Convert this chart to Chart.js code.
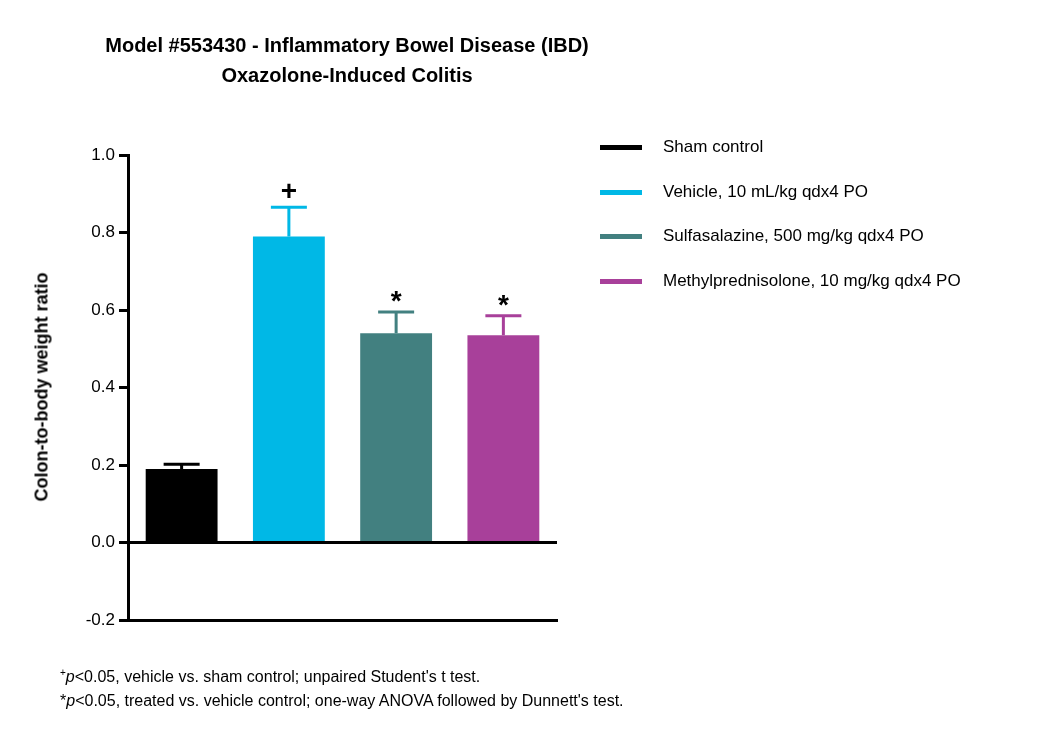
<!DOCTYPE html>
<html><head><meta charset="utf-8">
<script src="https://cdn.jsdelivr.net/npm/chart.js@4"></script>
<style>
body{margin:0;width:1050px;height:742px;background:#fff;font-family:"Liberation Sans",Arial,sans-serif;position:relative;overflow:hidden}
#c{position:absolute;left:0;top:0}
.t{position:absolute;left:0;width:694px;text-align:center;font-weight:bold;font-size:20px;color:#000}
.yt{position:absolute;left:42px;top:387px;transform:translate(-50%,-50%) rotate(-90deg);font-weight:bold;font-size:18px;white-space:nowrap}
.lg{position:absolute;left:600px;font-size:17px;color:#000}
.lg span{position:absolute;left:0;top:8px;width:42px;height:5px}
.lg div{position:absolute;left:63px;top:0;white-space:nowrap}
.fn{position:absolute;left:60px;font-size:16px;white-space:nowrap}
</style></head><body>
<canvas id="c" width="1050" height="742"></canvas>
<div class="t" style="top:34px">Model #553430 - Inflammatory Bowel Disease (IBD)</div>
<div class="t" style="top:64px">Oxazolone-Induced Colitis</div>
<div class="yt">Colon-to-body weight ratio</div>
<div id="legend"></div>
<div class="fn" style="top:667px"><sup style="font-size:10px">+</sup><i>p</i>&lt;0.05, vehicle vs. sham control; unpaired Student's t test.</div>
<div class="fn" style="top:692px">*<i>p</i>&lt;0.05, treated vs. vehicle control; one-way ANOVA followed by Dunnett's test.</div>
<script>
const groups=["Sham control","Vehicle, 10 mL/kg qdx4 PO","Sulfasalazine, 500 mg/kg qdx4 PO","Methylprednisolone, 10 mg/kg qdx4 PO"];
const means=[0.19,0.79,0.54,0.535];
const errors=[0.012,0.075,0.055,0.05];
const marks=["","+","*","*"];
const colors=["#000000","#00b8e6","#428080","#a8409a"];
const yTicks=[-0.2,0,0.2,0.4,0.6,0.8,1.0];

const lg=document.getElementById('legend');
groups.forEach((g,i)=>{const d=document.createElement('div');d.className='lg';d.style.top=(137+i*44.5)+'px';
d.innerHTML='<span style="background:'+colors[i]+'"></span><div>'+g+'</div>';lg.appendChild(d);});

const extras={id:'extras',afterDatasetsDraw(ch){
 const c=ch.ctx,x=ch.scales.x,y=ch.scales.y;
 c.save();
 // zero line
 c.strokeStyle='#000';c.lineWidth=3;c.beginPath();c.moveTo(x.left-1,y.getPixelForValue(0));c.lineTo(x.right,y.getPixelForValue(0));c.stroke();
 means.forEach((m,i)=>{
  const cx=x.getPixelForValue(i),y0=y.getPixelForValue(m),y1=y.getPixelForValue(m+errors[i]);
  c.strokeStyle=colors[i];c.lineWidth=3;c.beginPath();c.moveTo(cx,y0);c.lineTo(cx,y1);c.moveTo(cx-18,y1);c.lineTo(cx+18,y1);c.stroke();
  if(marks[i]){c.fillStyle='#000';c.font='bold 28px "Liberation Sans",Arial';c.textAlign='center';c.textBaseline='bottom';
   c.fillText(marks[i],cx,y1+(marks[i]=='*'?4:-1));}
 });
 c.restore();
}};

new Chart(document.getElementById('c'),{type:'bar',
 data:{labels:groups,datasets:[{data:means,backgroundColor:colors,barPercentage:0.67,categoryPercentage:1}]},
 options:{responsive:false,animation:false,
  layout:{padding:{left:0,right:493,top:155,bottom:0}},
  plugins:{legend:{display:false},tooltip:{enabled:false}},
  scales:{
   x:{grid:{display:false,drawTicks:false},ticks:{display:false},border:{color:'#000',width:3},afterFit(s){s.height=742-620-155+155-0;s.height=122;}},
   y:{min:-0.2,max:1.0,afterBuildTicks(s){s.ticks=yTicks.map(v=>({value:v}));},
    ticks:{color:'#000',font:{size:17,family:'"Liberation Sans",Arial'},padding:4,callback:v=>v.toFixed(1)},
    grid:{display:true,drawOnChartArea:false,tickLength:9,color:'#000',lineWidth:3},border:{color:'#000',width:3},
    afterFit(s){s.width=128;}}
  }},
 plugins:[extras]});
</script>
</body></html>
